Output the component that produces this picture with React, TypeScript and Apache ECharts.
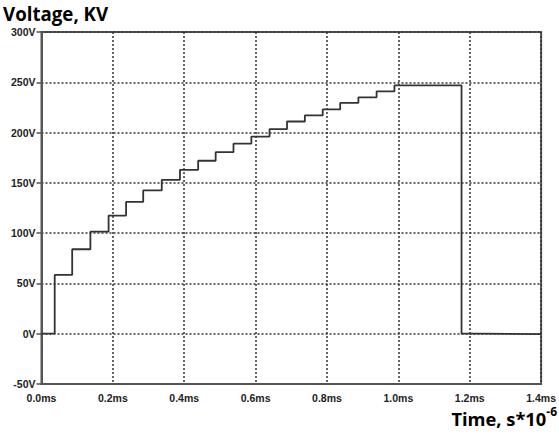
import React, { useEffect, useRef } from "react";
import * as echarts from "echarts";

// Rise instants (ms) and the voltage level (V) reached after each rise
const stepTimes = [0.037, 0.086, 0.137, 0.188, 0.237, 0.285, 0.337, 0.388, 0.439, 0.488, 0.538, 0.588, 0.639, 0.688, 0.738, 0.788, 0.837, 0.888, 0.939, 0.989, 1.177, 1.23, 1.4];
const stepLevels = [58.5, 84, 101.5, 117.5, 131, 142.5, 153, 163, 172, 180.5, 189, 196, 203.5, 211, 217, 223, 229.5, 235, 241, 247, 0, -0.5, -0.5];
const startPoint = [0, 0];

const xTicks = [0, 0.2, 0.4, 0.6, 0.8, 1.0, 1.2, 1.4];
const yTicks = [-50, 0, 50, 100, 150, 200, 250, 300];

const titleY = "Voltage, KV";
const titleX = "Time, s*10";
const titleXExp = "-6";

export default function App() {
  const ref = useRef<HTMLDivElement>(null);
  useEffect(() => {
    if (!ref.current) return;
    const chart = echarts.init(ref.current, null, { renderer: "svg" });
    const data = [startPoint, ...stepTimes.map((t, i) => [t, stepLevels[i]])];
    const tickFont = {
      fontFamily: "Liberation Sans",
      fontWeight: "bold" as const,
      fontSize: 10.5,
      color: "#222",
    };
    chart.setOption({
      animation: false,
      backgroundColor: "#fff",
      title: [
        {
          text: titleY,
          left: 3,
          top: 1,
          padding: 0,
          textStyle: { fontFamily: "Open Sans", fontWeight: "bold", fontSize: 18.7, color: "#000", lineHeight: 24 },
        },
        {
          text: "{a|" + titleX + "}{b|" + titleXExp + "}",
          right: 2,
          top: 405,
          padding: 0,
          textStyle: {
            rich: {
              a: { fontFamily: "Open Sans", fontWeight: "bold", fontSize: 18.3, color: "#000", lineHeight: 26 },
              b: { fontFamily: "Open Sans", fontWeight: "bold", fontSize: 12, color: "#000", verticalAlign: "top", lineHeight: 26 },
            },
          },
        },
      ],
      grid: {
        left: 41.5,
        right: 15.5,
        top: 32,
        bottom: 50,
        show: true,
        borderColor: "#555",
        borderWidth: 2,
        backgroundColor: "transparent",
      },
      xAxis: {
        type: "value",
        min: xTicks[0],
        max: xTicks[xTicks.length - 1],
        interval: 0.2,
        axisLine: { show: true, onZero: false, lineStyle: { color: "#555", width: 2 } },
        axisTick: { show: false },
        axisLabel: {
          ...tickFont,
          margin: 8,
          formatter: (v: number) => v.toFixed(1) + "ms",
        },
        splitLine: { show: true, lineStyle: { color: "#333", width: 1.5, type: [2, 2] } },
      },
      yAxis: {
        type: "value",
        min: yTicks[0],
        max: yTicks[yTicks.length - 1],
        interval: 50,
        axisLine: { show: true, onZero: false, lineStyle: { color: "#555", width: 2 } },
        axisTick: { show: true, length: 5, lineStyle: { color: "#555", width: 1.5 } },
        axisLabel: {
          ...tickFont,
          margin: 6,
          formatter: (v: number) => v + "V",
        },
        splitLine: { show: true, lineStyle: { color: "#333", width: 1.5, type: [2, 2] } },
      },
      series: [
        {
          type: "line",
          data,
          step: "end",
          showSymbol: false,
          symbol: "none",
          lineStyle: { color: "#333", width: 1.8 },
          z: 5,
        },
      ],
    });
    return () => chart.dispose();
  }, []);
  return <div ref={ref} style={{ position: "absolute", left: 0, top: 0, width: 559, height: 434 }} />;
}
